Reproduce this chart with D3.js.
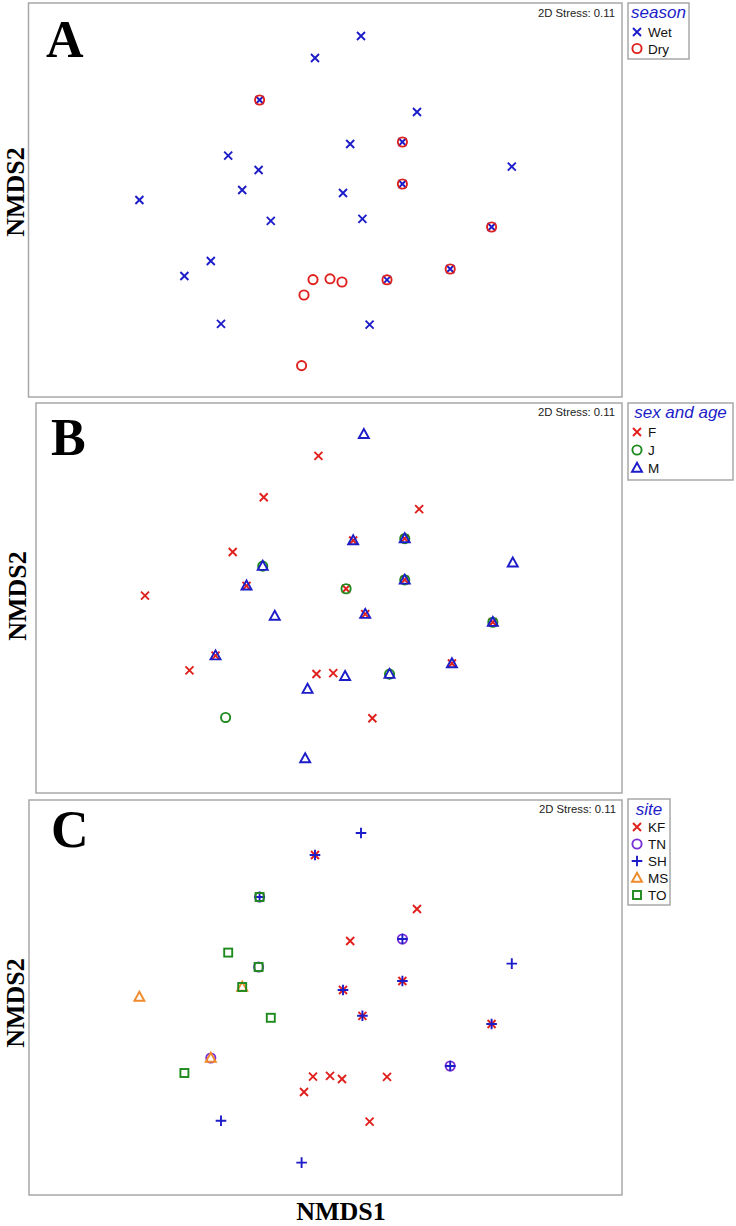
<!DOCTYPE html>
<html>
<head>
<meta charset="utf-8">
<script src="https://cdn.jsdelivr.net/npm/d3@7"></script>
<style>
  html, body { margin: 0; padding: 0; background: #fff; }
  svg { display: block; }
</style>
</head>
<body>
<svg id="chart" width="736" height="1226"></svg>
<script>
// ---- Data (NMDS ordination, same samples in all three panels) ----
const nmds1 = [0.180, -0.050, -0.327, 0.460, 0.126, 0.387, -0.484, -0.332, 0.934, 0.387,
               -0.414, -0.928, 0.090, -0.271, 0.187, 0.833, -0.571, -0.703, 0.626, 0.310,
               -0.060, 0.025, 0.085, -0.105, -0.520, 0.223, -0.117];
const nmds2 = [0.820, 0.710, 0.500, 0.440, 0.280, 0.290, 0.222, 0.150, 0.167, 0.080,
               0.050, 0.000, 0.035, -0.104, -0.094, -0.135, -0.305, -0.380, -0.345, -0.399,
               -0.398, -0.394, -0.410, -0.475, -0.619, -0.623, -0.828];
const season = ["Wet","Wet","Wet|Dry","Wet","Wet","Wet|Dry","Wet","Wet","Wet","Wet|Dry",
                "Wet","Wet","Wet","Wet","Wet","Wet|Dry","Wet","Wet","Wet|Dry","Wet|Dry",
                "Dry","Dry","Dry","Dry","Wet","Wet","Dry"];
const sexAge = ["M","F","F","F","F|M","F|J|M","F","J|M","M","F|J|M",
                "F|M","F","F|J","M","F|M","F|J|M","F|M","F","F|M","J|M",
                "F","F","M","M","J","F","M"];
const site = ["SH","KF|SH","TN|SH|TO","KF","KF","TN|SH","TO","TN|TO","SH","KF|SH",
              "MS|TO","MS","KF|SH","TO","KF|SH","KF|SH","TN|MS","TO","TN|SH","KF",
              "KF","KF","KF","KF","SH","KF","SH"];

const seasonCats = ["Wet","Dry"];
const seasonSymbols = ["cross","circle"];
const seasonColors = ["#1c1cc8","#e0201c"];
const sexCats = ["F","J","M"];
const sexSymbols = ["cross","circle","triangle"];
const sexColors = ["#e0201c","#1e8a1e","#1c1cc8"];
const siteCats = ["KF","TN","SH","MS","TO"];
const siteSymbols = ["cross","circle","plus","triangle","square"];
const siteColors = ["#e0201c","#7a2ed6","#1c1cc8","#f08a2a","#1e8a1e"];

const stressText = "2D Stress: 0.11";
const xTitle = "NMDS1";
const yTitle = "NMDS2";

// ---- Layout ----
const panels = [
  { letter: "A", groups: season, title: "season", cats: seasonCats, syms: seasonSymbols, cols: seasonColors,
    frame: [28.5, 3, 622, 397], xr: [28, 622], yr: [397, 3],
    letterPos: [46, 57], ylab: [24, 192], stress: [615, 17],
    legend: { x: 628, y: 3, w: 61, h: 56, head: 18, row0: 37, step: 16.5 } },
  { letter: "B", groups: sexAge, title: "sex and age", cats: sexCats, syms: sexSymbols, cols: sexColors,
    frame: [36, 403, 622, 793], xr: [35, 621.6], yr: [789.5, 401.8],
    letterPos: [51, 455], ylab: [26, 596], stress: [615, 416],
    legend: { x: 628, y: 403, w: 105, h: 77, head: 418, row0: 437, step: 18 } },
  { letter: "C", groups: site, title: "site", cats: siteCats, syms: siteSymbols, cols: siteColors,
    frame: [29, 800, 622, 1195], xr: [28, 622], yr: [1194, 800],
    letterPos: [51, 847], ylab: [24, 1003], stress: [616, 813],
    legend: { x: 628, y: 799, w: 42, h: 106, head: 815, row0: 832, step: 17 } }
];

const svg = d3.select("#chart");
const frameColor = "#a8a8a8";
const sw = 1.9;

function drawSymbol(g, sym, color) {
  if (sym === "cross") {
    g.append("path").attr("d", "M-4,-4L4,4M-4,4L4,-4")
      .attr("stroke", color).attr("stroke-width", sw).attr("fill", "none");
  } else if (sym === "circle") {
    g.append("circle").attr("r", 4.6)
      .attr("stroke", color).attr("stroke-width", sw).attr("fill", "none");
  } else if (sym === "triangle") {
    g.append("path").attr("d", "M0,-5.3L5,3.7L-5,3.7Z")
      .attr("stroke", color).attr("stroke-width", sw).attr("fill", "none").attr("stroke-linejoin", "miter");
  } else if (sym === "plus") {
    g.append("path").attr("d", "M-5.3,0L5.3,0M0,-5.3L0,5.3")
      .attr("stroke", color).attr("stroke-width", sw).attr("fill", "none");
  } else if (sym === "square") {
    g.append("rect").attr("x", -4).attr("y", -4).attr("width", 8).attr("height", 8)
      .attr("stroke", color).attr("stroke-width", sw).attr("fill", "none");
  }
}

const pts = nmds1.map((v, i) => ({ x: v, y: nmds2[i], i }));

panels.forEach(p => {
  const x = d3.scaleLinear().domain([-1.485, 1.485]).range(p.xr);
  const y = d3.scaleLinear().domain([-0.985, 0.985]).range(p.yr);
  const g = svg.append("g");

  // frame
  g.append("rect")
    .attr("x", p.frame[0]).attr("y", p.frame[1])
    .attr("width", p.frame[2] - p.frame[0]).attr("height", p.frame[3] - p.frame[1])
    .attr("fill", "none").attr("stroke", frameColor).attr("stroke-width", 1.5);

  // panel letter
  g.append("text").attr("x", p.letterPos[0]).attr("y", p.letterPos[1])
    .attr("font-family", "Liberation Serif, 'Times New Roman', serif")
    .attr("font-weight", "bold").attr("font-size", 52).attr("fill", "#000")
    .text(p.letter);

  // stress
  g.append("text").attr("x", p.stress[0]).attr("y", p.stress[1])
    .attr("text-anchor", "end")
    .attr("font-family", "Liberation Sans, Arial, sans-serif")
    .attr("font-size", 11.3).attr("fill", "#222")
    .text(stressText);

  // y label
  g.append("text")
    .attr("transform", `translate(${p.ylab[0]},${p.ylab[1]}) rotate(-90)`)
    .attr("text-anchor", "middle")
    .attr("font-family", "Liberation Serif, 'Times New Roman', serif")
    .attr("font-weight", "bold").attr("font-size", 26).attr("fill", "#000")
    .text(yTitle);

  // points
  const pg = g.append("g");
  pts.forEach(d => {
    const present = p.groups[d.i].split("|");
    const mg = pg.append("g").attr("transform", `translate(${x(d.x)},${y(d.y)})`);
    p.cats.forEach((c, k) => {
      if (present.includes(c)) drawSymbol(mg.append("g"), p.syms[k], p.cols[k]);
    });
  });

  // legend
  const L = p.legend;
  const lg = g.append("g");
  lg.append("rect").attr("x", L.x).attr("y", L.y).attr("width", L.w).attr("height", L.h)
    .attr("fill", "#fff").attr("stroke", frameColor).attr("stroke-width", 1.5);
  lg.append("text").attr("x", L.x + L.w / 2).attr("y", L.head)
    .attr("text-anchor", "middle")
    .attr("font-family", "Liberation Sans, Arial, sans-serif")
    .attr("font-style", "italic").attr("font-size", 17).attr("fill", "#1c1cc8")
    .text(p.title);
  p.cats.forEach((c, k) => {
    const by = L.row0 + k * L.step;
    drawSymbol(lg.append("g").attr("transform", `translate(${L.x + 9},${by - 5})`), p.syms[k], p.cols[k]);
    lg.append("text").attr("x", L.x + 20).attr("y", by)
      .attr("font-family", "Liberation Sans, Arial, sans-serif")
      .attr("font-size", 13.5).attr("fill", "#111")
      .text(c);
  });
});

// x axis title
svg.append("text").attr("x", 341).attr("y", 1220)
  .attr("text-anchor", "middle")
  .attr("font-family", "Liberation Serif, 'Times New Roman', serif")
  .attr("font-weight", "bold").attr("font-size", 26).attr("fill", "#000")
  .text(xTitle);
</script>
</body>
</html>
